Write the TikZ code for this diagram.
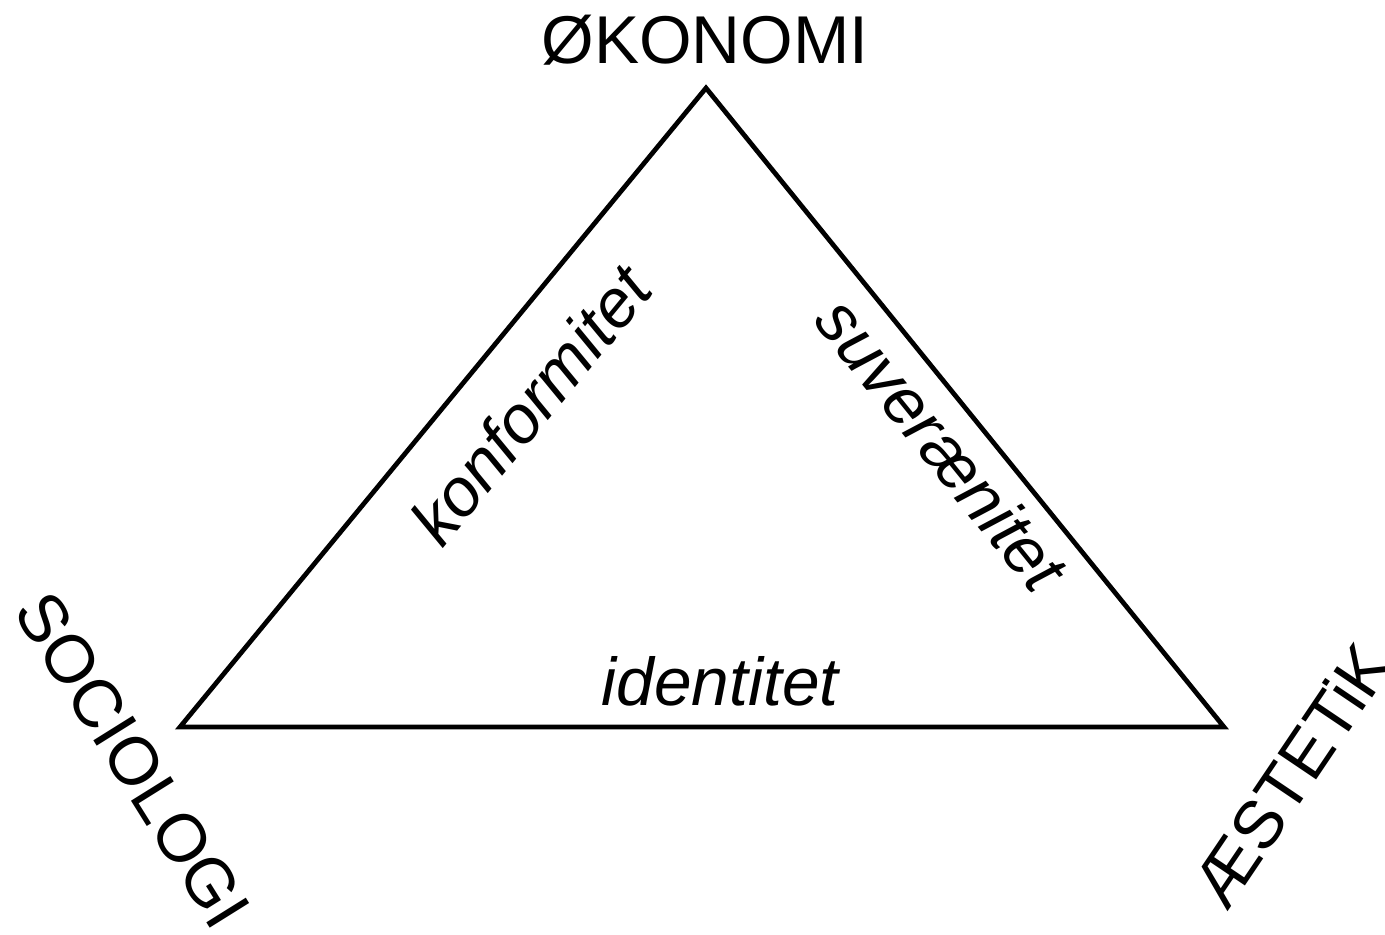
\documentclass[tikz,border=0pt]{standalone}
\usepackage{fontspec}
\setmainfont{Liberation Sans}
\usetikzlibrary{positioning}

\begin{document}
\begin{tikzpicture}[x=0.02cm,y=-0.02cm,
  every node/.style={font=\fontsize{38.5}{46}\selectfont,inner sep=0pt},
  corner/.style={},
  side/.style={font=\fontsize{38.5}{46}\selectfont\itshape}]
\useasboundingbox (0,0) rectangle (1385,934);
% hjoerner
\coordinate (top) at (706,88);
\coordinate (left) at (180,727);
\coordinate (right) at (1224,727);
\draw[line width=2.7pt,line join=miter] (top) -- (right) -- (left) -- cycle;
\node[corner,anchor=base] (okonomi) at (705,63) {ØKONOMI};
\node[corner,rotate=-58] (sociologi) at (133,760) {SOCIOLOGI};
\node[corner,rotate=56] (aestetik) at (1291,775) {ÆSTETiK};
% kanter
\node[side,rotate=50.5] (konf) at (530,405) {konformitet};
\node[side,rotate=-51] (suv) at (942,444) {suverænitet};
\node[side,anchor=base] (ident) at (720,705) {identitet};
\end{tikzpicture}
\end{document}
